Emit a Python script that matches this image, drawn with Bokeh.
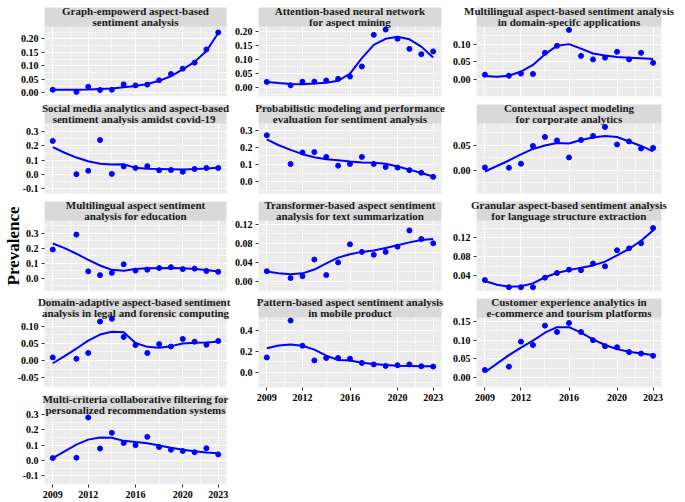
from bokeh.plotting import figure
from bokeh.models import Range1d, FixedTicker, PrintfTickFormatter, LinearAxis, Spacer
from bokeh.layouts import row, column
from bokeh.embed import file_html
from bokeh.resources import INLINE

# ---------------- data ----------------
years_pts = [2009, 2011, 2012, 2013, 2014, 2015, 2016, 2017, 2018, 2019, 2020, 2021, 2022, 2023]
years_fit = [2009, 2010, 2011, 2012, 2013, 2014, 2015, 2016, 2017, 2018, 2019, 2020, 2021, 2022, 2023]
x_ticks = [2009, 2012, 2016, 2020, 2023]
x_minor = [2010.5, 2014, 2018, 2021.5]
y_title = "Prevalence"

title_1 = "Graph-empowerd aspect-based\nsentiment analysis"
pts_1 = [0.012, 0.004, 0.023, 0.011, 0.012, 0.032, 0.028, 0.031, 0.047, 0.070, 0.090, 0.112, 0.161, 0.224]
fit_1 = [0.012, 0.012, 0.012, 0.013, 0.015, 0.017, 0.021, 0.026, 0.033, 0.045, 0.062, 0.087, 0.115, 0.155, 0.222]

title_2 = "Social media analytics and aspect-based\nsentiment analysis  amidst covid-19"
pts_2 = [0.236, 0.000, 0.024, 0.242, 0.002, 0.055, 0.044, 0.057, 0.028, 0.030, 0.017, 0.037, 0.044, 0.044]
fit_2 = [0.192, 0.152, 0.118, 0.092, 0.074, 0.068, 0.070, 0.045, 0.039, 0.037, 0.035, 0.033, 0.036, 0.040, 0.045]

title_3 = "Multilingual aspect sentiment\nanalysis for education"
pts_3 = [0.191, 0.290, 0.046, 0.021, 0.036, 0.093, 0.051, 0.057, 0.068, 0.074, 0.061, 0.064, 0.049, 0.043]
fit_3 = [0.231, 0.200, 0.163, 0.122, 0.085, 0.056, 0.050, 0.062, 0.066, 0.067, 0.068, 0.066, 0.062, 0.055, 0.045]

title_4 = "Domain-adaptive  aspect-based sentiment\nanalysis in legal and forensic computing"
pts_4 = [0.009, 0.005, 0.022, 0.114, 0.122, 0.069, 0.045, 0.022, 0.048, 0.041, 0.063, 0.055, 0.046, 0.057]
fit_4 = [-0.008, 0.013, 0.035, 0.058, 0.076, 0.084, 0.083, 0.051, 0.040, 0.037, 0.042, 0.050, 0.052, 0.053, 0.055]

title_5 = "Multi-criteria collaborative filtering for\npersonalized recommendation systems"
pts_5 = [0.016, 0.018, 0.280, 0.078, 0.180, 0.114, 0.100, 0.154, 0.088, 0.070, 0.062, 0.054, 0.080, 0.040]
fit_5 = [0.016, 0.060, 0.104, 0.136, 0.150, 0.148, 0.128, 0.120, 0.113, 0.098, 0.083, 0.070, 0.060, 0.053, 0.047]

title_6 = "Attention-based neural network\nfor aspect mining"
pts_6 = [0.020, 0.008, 0.021, 0.021, 0.025, 0.031, 0.039, 0.075, 0.188, 0.207, 0.174, 0.138, 0.119, 0.129]
fit_6 = [0.020, 0.016, 0.013, 0.012, 0.014, 0.017, 0.024, 0.050, 0.105, 0.152, 0.174, 0.181, 0.172, 0.146, 0.107]

title_7 = "Probabilistic modeling and performance\nevaluation for sentiment analysis"
pts_7 = [0.270, 0.103, 0.170, 0.172, 0.144, 0.093, 0.103, 0.144, 0.103, 0.085, 0.082, 0.067, 0.052, 0.028]
fit_7 = [0.246, 0.212, 0.185, 0.160, 0.142, 0.131, 0.124, 0.117, 0.112, 0.110, 0.104, 0.088, 0.070, 0.050, 0.030]

title_8 = "Transformer-based aspect sentiment\nanalysis for text summarization"
pts_8 = [0.0215, 0.007, 0.011, 0.046, 0.0135, 0.040, 0.078, 0.062, 0.056, 0.062, 0.073, 0.107, 0.089, 0.080]
fit_8 = [0.021, 0.017, 0.015, 0.017, 0.025, 0.038, 0.050, 0.057, 0.062, 0.065, 0.070, 0.076, 0.082, 0.087, 0.089]

title_9 = "Pattern-based aspect sentiment analysis\nin mobile product"
pts_9 = [0.142, 0.498, 0.255, 0.113, 0.137, 0.137, 0.130, 0.089, 0.075, 0.060, 0.067, 0.075, 0.057, 0.054]
fit_9 = [0.231, 0.258, 0.268, 0.255, 0.217, 0.160, 0.117, 0.113, 0.090, 0.078, 0.068, 0.063, 0.060, 0.057, 0.056]

title_10 = "Multilingual aspect-based sentiment analysis\nin domain-specifc applications"
pts_10 = [0.013, 0.010, 0.016, 0.015, 0.076, 0.096, 0.142, 0.067, 0.057, 0.062, 0.079, 0.057, 0.076, 0.047]
fit_10 = [0.009, 0.007, 0.010, 0.022, 0.041, 0.072, 0.096, 0.101, 0.088, 0.074, 0.068, 0.064, 0.062, 0.060, 0.058]

title_11 = "Contextual aspect modeling\nfor corporate analytics"
pts_11 = [0.006, 0.0055, 0.0135, 0.049, 0.067, 0.060, 0.026, 0.061, 0.069, 0.087, 0.052, 0.058, 0.044, 0.045]
fit_11 = [-0.002, 0.009, 0.020, 0.032, 0.043, 0.050, 0.055, 0.054, 0.061, 0.066, 0.069, 0.067, 0.058, 0.049, 0.038]

title_12 = "Granular aspect-based sentiment analysis\nfor language structure extraction"
pts_12 = [0.031, 0.016, 0.016, 0.016, 0.036, 0.046, 0.053, 0.052, 0.066, 0.060, 0.094, 0.098, 0.109, 0.141]
fit_12 = [0.029, 0.021, 0.017, 0.018, 0.024, 0.037, 0.046, 0.052, 0.057, 0.062, 0.070, 0.083, 0.097, 0.114, 0.136]

title_13 = "Customer experience analytics in\ne-commerce and tourism platforms"
pts_13 = [0.020, 0.029, 0.096, 0.087, 0.139, 0.122, 0.146, 0.122, 0.100, 0.084, 0.081, 0.068, 0.064, 0.058]
fit_13 = [0.014, 0.037, 0.060, 0.080, 0.099, 0.120, 0.135, 0.135, 0.120, 0.102, 0.087, 0.076, 0.069, 0.064, 0.060]

# axis settings per panel: (limits, major ticks, minor ticks, label format)
lim_1, tk_1, mn_1, fmt_1 = (-0.013, 0.246), [0, 0.05, 0.10, 0.15, 0.20], [0.025, 0.075, 0.125, 0.175, 0.225], "%.2f"
lim_2, tk_2, mn_2, fmt_2 = (-0.137, 0.36), [-0.1, 0, 0.1, 0.2, 0.3], [-0.05, 0.05, 0.15, 0.25, 0.35], "%.1f"
lim_3, tk_3, mn_3, fmt_3 = (-0.081, 0.384), [0, 0.1, 0.2, 0.3], [-0.05, 0.05, 0.15, 0.25, 0.35], "%.1f"
lim_4, tk_4, mn_4, fmt_4 = (-0.079, 0.126), [-0.05, 0, 0.05, 0.10], [-0.075, -0.025, 0.025, 0.075, 0.125], "%.2f"
lim_5, tk_5, mn_5, fmt_5 = (-0.156, 0.30), [-0.1, 0, 0.1, 0.2, 0.3], [-0.15, -0.05, 0.05, 0.15, 0.25], "%.1f"
lim_6, tk_6, mn_6, fmt_6 = (-0.032, 0.218), [0, 0.05, 0.10, 0.15, 0.20], [-0.025, 0.025, 0.075, 0.125, 0.175], "%.2f"
lim_7, tk_7, mn_7, fmt_7 = (-0.069, 0.339), [0, 0.1, 0.2, 0.3], [-0.05, 0.05, 0.15, 0.25], "%.1f"
lim_8, tk_8, mn_8, fmt_8 = (-0.019, 0.128), [0, 0.04, 0.08, 0.12], [0.02, 0.06, 0.10], "%.2f"
lim_9, tk_9, mn_9, fmt_9 = (-0.148, 0.528), [0, 0.2, 0.4], [-0.1, 0.1, 0.3, 0.5], "%.1f"
lim_10, tk_10, mn_10, fmt_10 = (-0.05, 0.152), [0, 0.05, 0.10], [-0.025, 0.025, 0.075, 0.125], "%.2f"
lim_11, tk_11, mn_11, fmt_11 = (-0.046, 0.094), [0, 0.05], [-0.025, 0.025, 0.075], "%.2f"
lim_12, tk_12, mn_12, fmt_12 = (0.009, 0.157), [0.04, 0.08, 0.12], [0.02, 0.06, 0.10, 0.14], "%.2f"
lim_13, tk_13, mn_13, fmt_13 = (-0.027, 0.161), [0, 0.05, 0.10, 0.15], [-0.025, 0.025, 0.075, 0.125], "%.2f"

# ---------------- layout / style ----------------
FRAME_W = 186
STRIP_H = 20
PANEL_H = 74
GAP = 3
AXIS_H = 16
TOP = 2
X0, X1 = 2008.3, 2023.7
FONT = "Liberation Serif"


def style_axis(ax):
    ax.axis_line_color = None
    ax.major_tick_line_color = "#333333"
    ax.major_tick_out = 3
    ax.major_tick_in = 0
    ax.minor_tick_line_color = None
    ax.major_label_standoff = 2
    ax.major_label_text_font = FONT
    ax.major_label_text_font_style = "bold"
    ax.major_label_text_font_size = "10px"
    ax.major_label_text_color = "black"


def make_panel(title, pts, fit, lim, tk, mn, fmt, left, right, bottom_axis, ylabel=None):
    lo, hi = lim
    top = hi + (hi - lo) * STRIP_H / PANEL_H
    bottom = AXIS_H if bottom_axis else GAP
    p = figure(width=left + FRAME_W + right, height=STRIP_H + PANEL_H + bottom,
               x_range=Range1d(X0, X1), y_range=Range1d(lo, top),
               output_backend="svg", toolbar_location=None, title=None,
               min_border_left=left, min_border_right=right,
               min_border_top=0, min_border_bottom=bottom)
    p.background_fill_color = "#EBEBEB"
    p.border_fill_color = "white"
    p.outline_line_color = None

    xt = FixedTicker(ticks=x_ticks, minor_ticks=x_minor)
    yt = FixedTicker(ticks=tk, minor_ticks=mn)
    p.xaxis.ticker = xt
    p.yaxis.ticker = yt
    p.xgrid.ticker = xt
    p.ygrid.ticker = yt
    for g in (p.xgrid, p.ygrid):
        g.grid_line_color = "white"
        g.grid_line_width = 1.1
        g.minor_grid_line_color = "white"
        g.minor_grid_line_width = 0.55

    style_axis(p.yaxis[0])
    p.yaxis.formatter = PrintfTickFormatter(format=fmt)
    if ylabel:
        p.yaxis.axis_label = ylabel
        p.yaxis.axis_label_standoff = 0
        p.yaxis.axis_label_text_font = FONT
        p.yaxis.axis_label_text_font_style = "bold"
        p.yaxis.axis_label_text_font_size = "17px"
        p.yaxis.axis_label_text_color = "black"
    if bottom_axis:
        style_axis(p.xaxis[0])
        p.xaxis.formatter = PrintfTickFormatter(format="%d")
    else:
        p.xaxis.visible = False

    # facet strip: grey band at the top of the frame ...
    p.quad(left=[X0], right=[X1], bottom=[hi], top=[top],
           fill_color="#D9D9D9", line_color=None)
    # ... and its text, carried by an empty axis above (not clipped to the frame)
    strip = LinearAxis(ticker=FixedTicker(ticks=[]), axis_label=title,
                       axis_line_color=None, major_tick_line_color=None,
                       minor_tick_line_color=None, major_tick_out=0, major_tick_in=0,
                       minor_tick_out=0, minor_tick_in=0,
                       major_label_standoff=0, major_label_text_font_size="0px",
                       axis_label_standoff=-STRIP_H,
                       axis_label_text_font=FONT, axis_label_text_font_style="bold",
                       axis_label_text_font_size="11px", axis_label_text_line_height=0.85,
                       axis_label_text_color="#1A1A1A")
    p.add_layout(strip, "above")

    p.line(years_fit, fit, line_color="blue", line_width=2)
    p.scatter(years_pts, pts, size=5, color="blue")
    return p


L1, R1, L2, R2, L3, R3 = 40, 5, 24, 8, 26, 20

col1 = column(Spacer(height=TOP),
              make_panel(title_1, pts_1, fit_1, lim_1, tk_1, mn_1, fmt_1, L1, R1, False),
              make_panel(title_2, pts_2, fit_2, lim_2, tk_2, mn_2, fmt_2, L1, R1, False),
              make_panel(title_3, pts_3, fit_3, lim_3, tk_3, mn_3, fmt_3, L1, R1, False, y_title),
              make_panel(title_4, pts_4, fit_4, lim_4, tk_4, mn_4, fmt_4, L1, R1, False),
              make_panel(title_5, pts_5, fit_5, lim_5, tk_5, mn_5, fmt_5, L1, R1, True))
col2 = column(Spacer(height=TOP),
              make_panel(title_6, pts_6, fit_6, lim_6, tk_6, mn_6, fmt_6, L2, R2, False),
              make_panel(title_7, pts_7, fit_7, lim_7, tk_7, mn_7, fmt_7, L2, R2, False),
              make_panel(title_8, pts_8, fit_8, lim_8, tk_8, mn_8, fmt_8, L2, R2, False),
              make_panel(title_9, pts_9, fit_9, lim_9, tk_9, mn_9, fmt_9, L2, R2, True))
col3 = column(Spacer(height=TOP),
              make_panel(title_10, pts_10, fit_10, lim_10, tk_10, mn_10, fmt_10, L3, R3, False),
              make_panel(title_11, pts_11, fit_11, lim_11, tk_11, mn_11, fmt_11, L3, R3, False),
              make_panel(title_12, pts_12, fit_12, lim_12, tk_12, mn_12, fmt_12, L3, R3, False),
              make_panel(title_13, pts_13, fit_13, lim_13, tk_13, mn_13, fmt_13, L3, R3, True))

layout = row(col1, col2, col3)
open("out.html", "w").write(file_html(layout, INLINE, title="Prevalence"))
